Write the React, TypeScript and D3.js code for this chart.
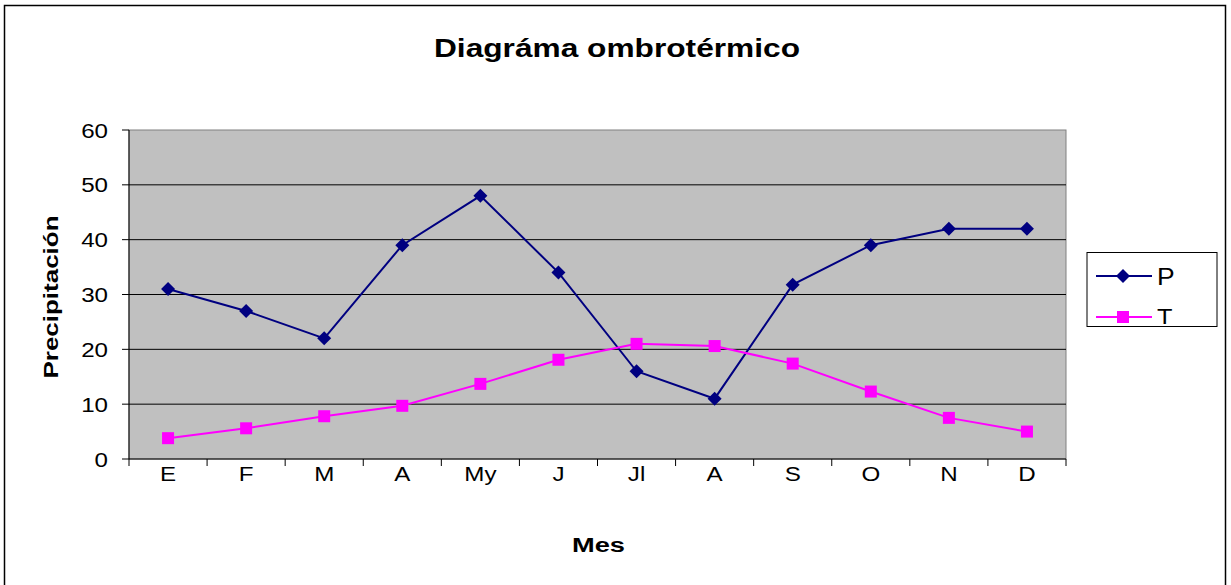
import React from "react";
import * as d3 from "d3";

const months = ["E", "F", "M", "A", "My", "J", "Jl", "A", "S", "O", "N", "D"];
const precip = [31, 27, 22, 39, 48, 34, 16, 11, 31.8, 39, 42, 42];
const temp = [3.8, 5.6, 7.8, 9.7, 13.7, 18.1, 21, 20.6, 17.4, 12.3, 7.5, 5];
const yTicks = [0, 10, 20, 30, 40, 50, 60];

export default function App() {
  const W = 1231, H = 585;
  const left = 129, right = 1066, top = 130, bottom = 459;
  const x = d3.scaleBand<number>().domain(d3.range(months.length)).range([left, right]);
  const y = d3.scaleLinear().domain([0, 60]).range([bottom, top]);
  const cx = (i: number) => (x(i) as number) + x.bandwidth() / 2;
  const line = d3.line<number>().x((_, i) => cx(i)).y((d) => y(d));
  const font = "Liberation Sans, Arial, sans-serif";
  const sx = 1.15;
  const diamond = (px: number, py: number, r: number) =>
    `M${px},${py - r}L${px + r},${py}L${px},${py + r}L${px - r},${py}Z`;
  return (
    <svg width={W} height={H} style={{ position: "absolute", left: 0, top: 0 }} fontFamily={font}>
      <rect x={0} y={0} width={W} height={H} fill="#fff" />
      <rect x={4.5} y={5.5} width={1221} height={590} fill="#fff" stroke="#000" strokeWidth={1.5} />
      <text x={434} y={57} fontSize={26} fontWeight="bold" textLength={366} lengthAdjust="spacingAndGlyphs">Diagráma ombrotérmico</text>
      <rect x={left} y={top} width={right - left} height={bottom - top} fill="#c0c0c0" stroke="#808080" strokeWidth={1} />
      {yTicks.map((t) => (
        <g key={t}>
          {t > 0 && t < 60 && <line x1={left} x2={right} y1={y(t)} y2={y(t)} stroke="#000" strokeWidth={1} />}
          <line x1={left - 7} x2={left} y1={y(t)} y2={y(t)} stroke="#000" />
          <g transform={`translate(108,${y(t) + 7.5}) scale(${sx},1)`}>
            <text textAnchor="end" fontSize={21}>{t}</text>
          </g>
        </g>
      ))}
      <line x1={left} x2={left} y1={top} y2={bottom} stroke="#000" />
      <line x1={left} x2={right} y1={bottom} y2={bottom} stroke="#000" />
      {d3.range(months.length + 1).map((i) => {
        const xx = i < months.length ? (x(i) as number) : right;
        return <line key={"t" + i} x1={xx} x2={xx} y1={bottom} y2={bottom + 7} stroke="#000" />;
      })}
      {months.map((m, i) => (
        <g key={"m" + i} transform={`translate(${cx(i)},${481}) scale(${sx},1)`}>
          <text textAnchor="middle" fontSize={21}>{m}</text>
        </g>
      ))}
      <text x={572} y={552} fontSize={20} fontWeight="bold" textLength={53} lengthAdjust="spacingAndGlyphs">Mes</text>
      <text transform={`translate(58,297) rotate(-90)`} textAnchor="middle" fontSize={21} fontWeight="bold" textLength={163} lengthAdjust="spacingAndGlyphs">Precipitación</text>
      <path d={line(precip) || ""} fill="none" stroke="#000080" strokeWidth={2} />
      <path d={line(temp) || ""} fill="none" stroke="#ff00ff" strokeWidth={2} />
      {precip.map((v, i) => (
        <path key={"p" + i} d={diamond(cx(i), y(v), 7)} fill="#000080" />
      ))}
      {temp.map((v, i) => (
        <rect key={"q" + i} x={cx(i) - 6} y={y(v) - 6} width={12} height={12} fill="#ff00ff" />
      ))}
      <rect x={1087} y={252.5} width={130} height={74} fill="#fff" stroke="#000" strokeWidth={1} />
      <line x1={1096} x2={1152} y1={276} y2={276} stroke="#000080" strokeWidth={2} />
      <path d={diamond(1123, 276, 7)} fill="#000080" />
      <g transform={`translate(1157,285) scale(${sx},1)`}>
        <text fontSize={23}>P</text>
      </g>
      <line x1={1096} x2={1152} y1={317} y2={317} stroke="#ff00ff" strokeWidth={2} />
      <rect x={1117} y={311} width={12} height={12} fill="#ff00ff" />
      <g transform={`translate(1157,324) scale(${sx},1)`}>
        <text fontSize={22}>T</text>
      </g>
    </svg>
  );
}
